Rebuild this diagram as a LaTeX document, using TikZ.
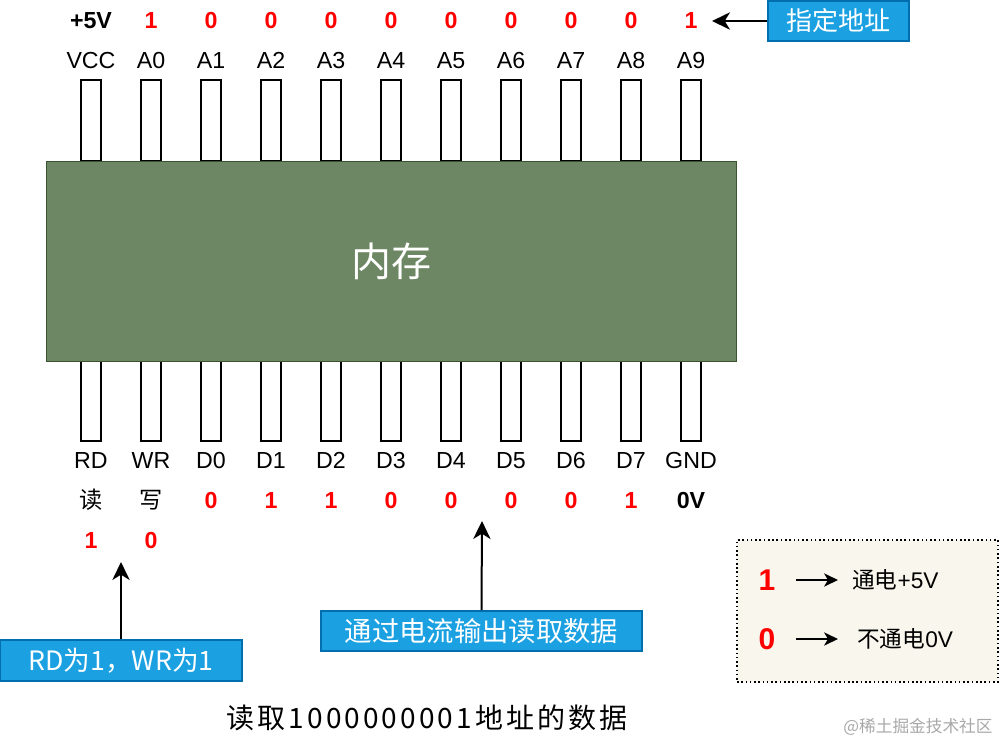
\documentclass[tikz,border=0pt]{standalone}
\usepackage{fontspec}
\setmainfont{Liberation Sans}
\newfontfamily\cjk{Noto Sans CJK SC}
\newfontfamily\capfont{Noto Sans CJK SC}[LetterSpace=11]
\usetikzlibrary{arrows.meta}
\definecolor{chipfill}{HTML}{6D8764}
\definecolor{chipline}{HTML}{3A5431}
\definecolor{bluefill}{HTML}{1BA1E2}
\definecolor{blueline}{HTML}{006EAF}
\definecolor{legfill}{HTML}{F9F7ED}
\definecolor{valred}{HTML}{FF0000}
\definecolor{wmgray}{HTML}{A8A8A8}
\begin{document}
\begin{tikzpicture}[x=0.75pt, y=-0.75pt,
  pinbox/.style={draw=black, line width=1.5pt, fill=white, minimum width=15pt, minimum height=60.5pt, inner sep=0pt},
  lbl/.style={anchor=base, inner sep=0pt, font=\fontsize{17.4}{20}\selectfont},
  val/.style={lbl, font=\fontsize{17.4}{20}\selectfont\bfseries, text=valred},
  blk/.style={lbl, font=\fontsize{17.4}{20}\selectfont\bfseries},
  cjklbl/.style={lbl, font=\cjk\fontsize{17.4}{20}\selectfont},
  bluebox/.style={draw=blueline, fill=bluefill, line width=1.5pt, text=white, inner sep=0pt},
  arr/.style={-{Stealth[length=13.5pt,width=13pt,inset=4pt]}, line width=1.5pt},
  sarr/.style={-{Stealth[length=10.5pt,width=10pt,inset=3pt]}, line width=1.1pt}]
\useasboundingbox (0,0) rectangle (1000,744);

% pins
\foreach \i in {0,...,10} {
  \node[pinbox] (tp\i) at ({91+60*\i},120.5) {};
  \node[pinbox] (bp\i) at ({91+60*\i},401) {};
}

% chip
\node[draw=chipline, fill=chipfill, line width=0.75pt, minimum width=517.5pt, minimum height=150pt,
      text=white, font=\cjk\fontsize{30}{36}\selectfont] (chip) at (391,261) {内存};

% top labels
\foreach \t [count=\i from 0] in {VCC,A0,A1,A2,A3,A4,A5,A6,A7,A8,A9}
  \node[lbl] (tl\i) at ({91+60*\i},68) {\t};
\foreach \v/\s [count=\i from 0] in {+5V/blk,1/val,0/val,0/val,0/val,0/val,0/val,0/val,0/val,0/val,1/val}
  \node[\s] (tv\i) at ({91+60*\i},28.5) {\v};

% bottom labels
\foreach \t [count=\i from 0] in {RD,WR,D0,D1,D2,D3,D4,D5,D6,D7,GND}
  \node[lbl] (bl\i) at ({91+60*\i},468) {\t};
\node[cjklbl] (bv0) at (91,508) {读};
\node[cjklbl] (bv1) at (151,508) {写};
\foreach \v/\s [count=\i from 2] in {0/val,1/val,1/val,0/val,0/val,0/val,0/val,1/val,0V/blk}
  \node[\s] (bv\i) at ({91+60*\i},508) {\v};
\node[val] (rdv) at (91,548) {1};
\node[val] (wrv) at (151,548) {0};

% callout: address
\node[bluebox, minimum width=105.75pt, minimum height=30pt, font=\cjk\fontsize{19.5}{24}\selectfont] (addr) at (838.5,21) {指定地址};
\coordinate (addrtip) at (712,21);
\draw[arr] (addr.west) -- (addrtip);

% callout: RD/WR
\node[bluebox, minimum width=181.5pt, minimum height=30.75pt, font=\cjk\fontsize{20}{24}\selectfont] (rdwr) at (121,660.5) {RD为1，WR为1};
\coordinate (rdtip) at (121,562);
\draw[arr] (rdwr.north) -- (rdtip);

% callout: data
\node[bluebox, minimum width=240.75pt, minimum height=30pt, font=\cjk\fontsize{20.5}{24}\selectfont] (flow) at (481.5,631) {通过电流输出读取数据};
\coordinate (flowtip) at (482,521);
\draw[arr] (flow.north) -- (flowtip);

% legend
\node[draw, dotted, line width=1.2pt, fill=legfill, minimum width=195.75pt, minimum height=106.5pt, inner sep=0pt] (legend) at (867.5,611) {};
\node[inner sep=0pt, font=\fontsize{22.5}{26}\selectfont\bfseries, text=valred] (l1) at (767,580) {1};
\node[inner sep=0pt, font=\fontsize{22.5}{26}\selectfont\bfseries, text=valred] (l0) at (767,639) {0};
\node[anchor=west, inner sep=0pt, font=\fontsize{17}{20}\selectfont] (t1) at (852,580) {{\cjk 通电}+5V};
\node[anchor=west, inner sep=0pt, font=\fontsize{17}{20}\selectfont] (t0) at (857,639) {{\cjk 不通电}0V};
\draw[sarr] ([xshift=15.5pt]l1.east |- t1.west) -- ([xshift=-10.5pt]t1.west);
\draw[sarr] ([xshift=15.5pt]l1.east |- t0.west) -- ([xshift=-14.25pt]t0.west);

% caption and watermark
\node[font=\capfont\fontsize{21}{25}\selectfont] (cap) at (427,718) {读取1000000001地址的数据};
\node[font=\cjk\fontsize{12.5}{15}\selectfont, text=wmgray] (wm) at (918,727) {@稀土掘金技术社区};
\end{tikzpicture}
\end{document}
